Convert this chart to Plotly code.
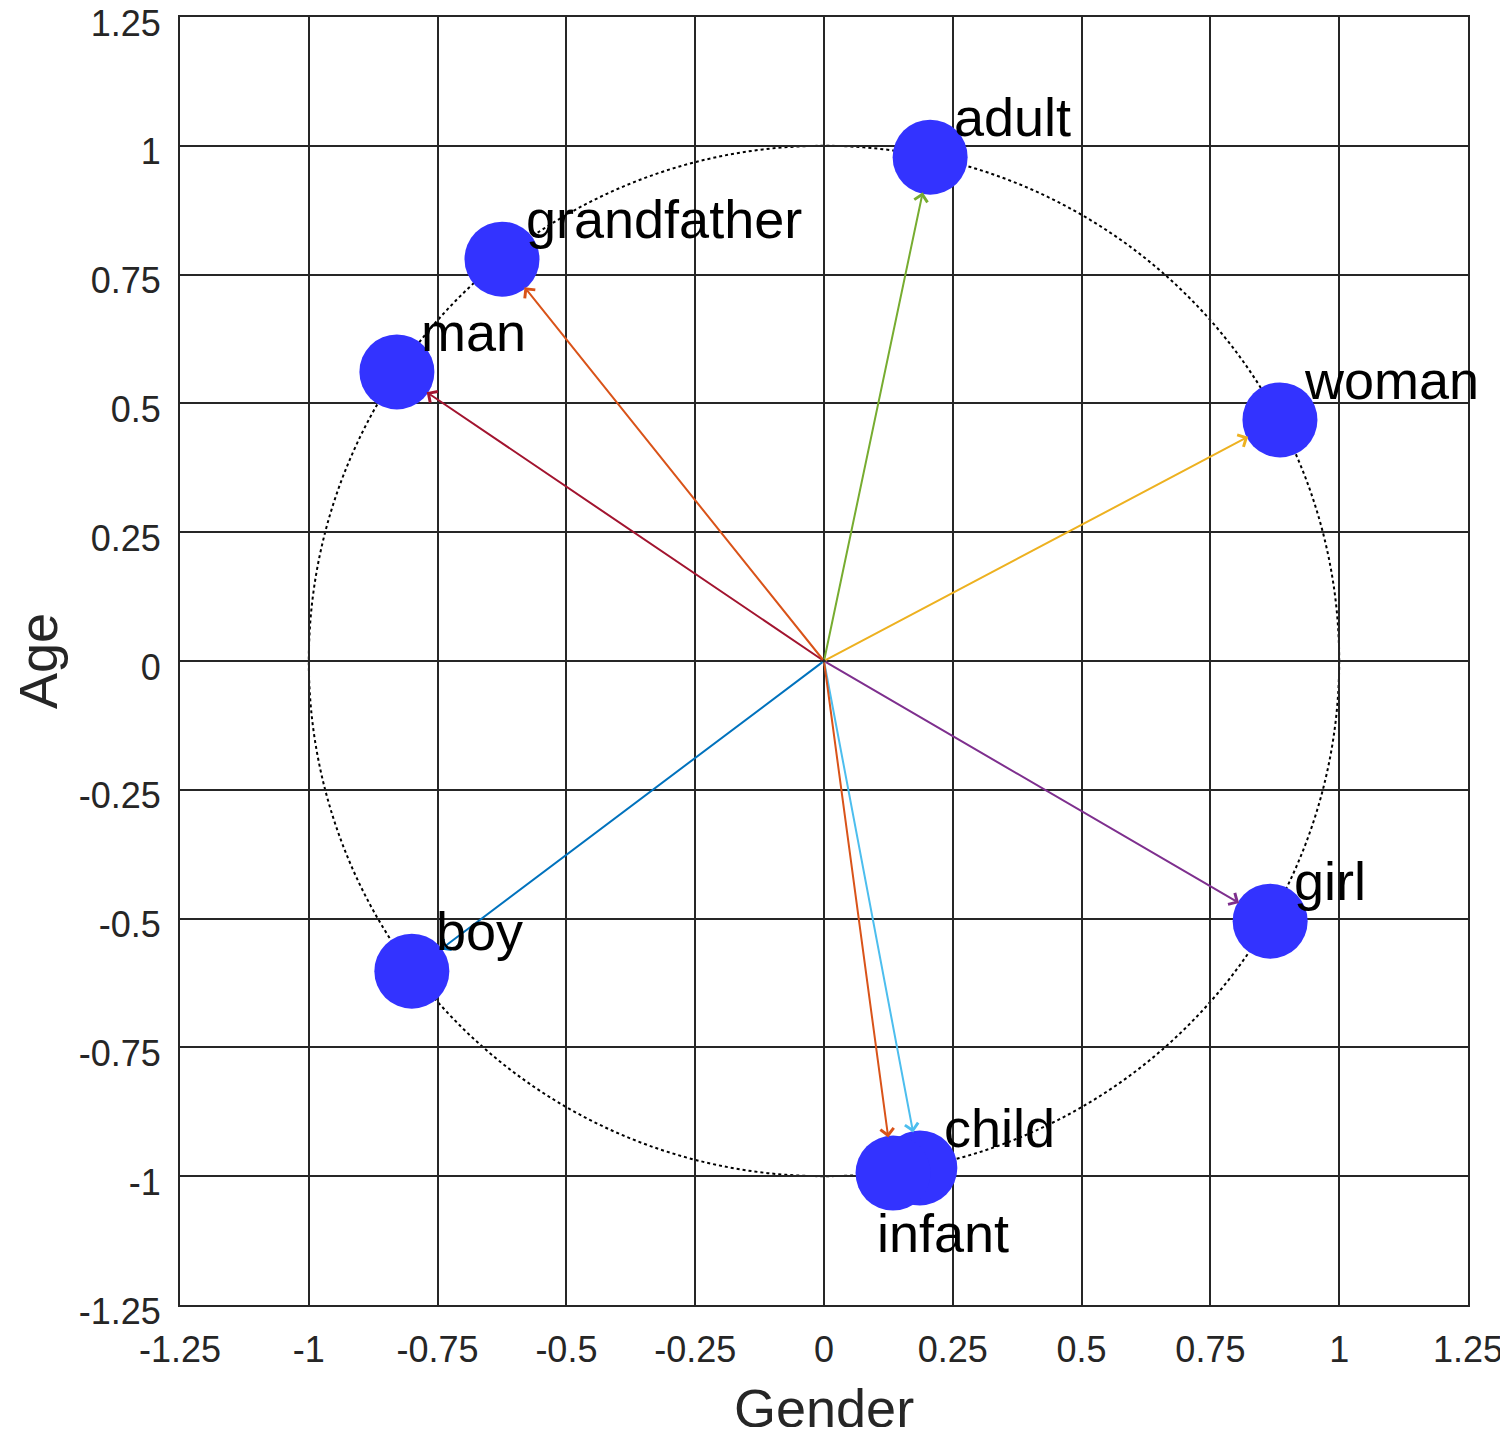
import plotly.graph_objects as go

# ---- data ----
words = ["man", "grandfather", "adult", "woman", "girl", "boy", "child", "infant"]
gender = [-0.829, -0.625, 0.206, 0.885, 0.866, -0.800, 0.186, 0.134]
age = [0.561, 0.780, 0.978, 0.468, -0.505, -0.602, -0.984, -0.994]
arrow_colors = ["#A2142F", "#D95319", "#77AC30", "#EDB120", "#7E2F8E", "#0072BD", "#4DBEEE", "#D95319"]
tick_vals = [-1.25, -1.0, -0.75, -0.5, -0.25, 0.0, 0.25, 0.5, 0.75, 1.0, 1.25]
tick_text = ["-1.25", "-1", "-0.75", "-0.5", "-0.25", "0", "0.25", "0.5", "0.75", "1", "1.25"]
x_title = "Gender"
y_title = "Age"

# label pixel offsets (style)
label_shift = {w: (22, 40) for w in words}
label_shift["infant"] = (-18, -60)

grid_col = "#262626"
font_family = "Liberation Sans, Arial, Helvetica, sans-serif"

fig = go.Figure()

# markers
fig.add_trace(go.Scatter(
    x=gender, y=age, mode="markers",
    marker=dict(size=75, color="#3333FF", line=dict(width=0)),
    hoverinfo="text", text=words, showlegend=False,
))

annotations = []
# arrows from origin
for w, gx, ay_, c in zip(words, gender, age, arrow_colors):
    annotations.append(dict(
        x=gx, y=ay_, ax=0, ay=0, xref="x", yref="y", axref="x", ayref="y",
        text="", showarrow=True, arrowhead=4, arrowsize=1.3, arrowwidth=2,
        arrowcolor=c, standoff=36, startstandoff=0,
    ))
# labels
for w, gx, ay_ in zip(words, gender, age):
    dx, dy = label_shift[w]
    annotations.append(dict(
        x=gx, y=ay_, xref="x", yref="y", text=w, showarrow=False,
        xanchor="left", yanchor="middle", xshift=dx, yshift=dy,
        font=dict(size=54, color="black", family=font_family),
    ))
# axis titles
annotations.append(dict(
    x=0.5, y=0, xref="paper", yref="paper", text=x_title, showarrow=False,
    xanchor="center", yanchor="middle", yshift=-103,
    font=dict(size=54, color=grid_col, family=font_family),
))
annotations.append(dict(
    x=0, y=0.5, xref="paper", yref="paper", text=y_title, showarrow=False,
    xanchor="center", yanchor="middle", xshift=-142, textangle=-90,
    font=dict(size=54, color=grid_col, family=font_family),
))

fig.update_layout(
    width=1500, height=1419,
    margin=dict(l=172, r=40, t=9, b=122, autoexpand=False),
    paper_bgcolor="white", plot_bgcolor="white",
    font=dict(family=font_family, color=grid_col),
    annotations=annotations,
    shapes=[dict(type="circle", xref="x", yref="y", x0=-1, y0=-1, x1=1, y1=1,
                 line=dict(color="black", width=2, dash="dot"), layer="below")],
    showlegend=False,
)

axis_common = dict(
    range=[-1.25, 1.25], tickvals=tick_vals, ticktext=tick_text,
    showgrid=True, gridcolor=grid_col, gridwidth=2,
    zeroline=False, showline=True, linecolor=grid_col, linewidth=2, mirror=True,
    ticks="", tickfont=dict(size=36, color=grid_col, family=font_family),
    fixedrange=True, automargin=False, ticklabeloverflow="allow",
)
fig.update_xaxes(**axis_common, ticklabelstandoff=12)
fig.update_yaxes(**axis_common, ticklabelstandoff=10, ticklabelshift=6)

fig.write_html("out.html")
